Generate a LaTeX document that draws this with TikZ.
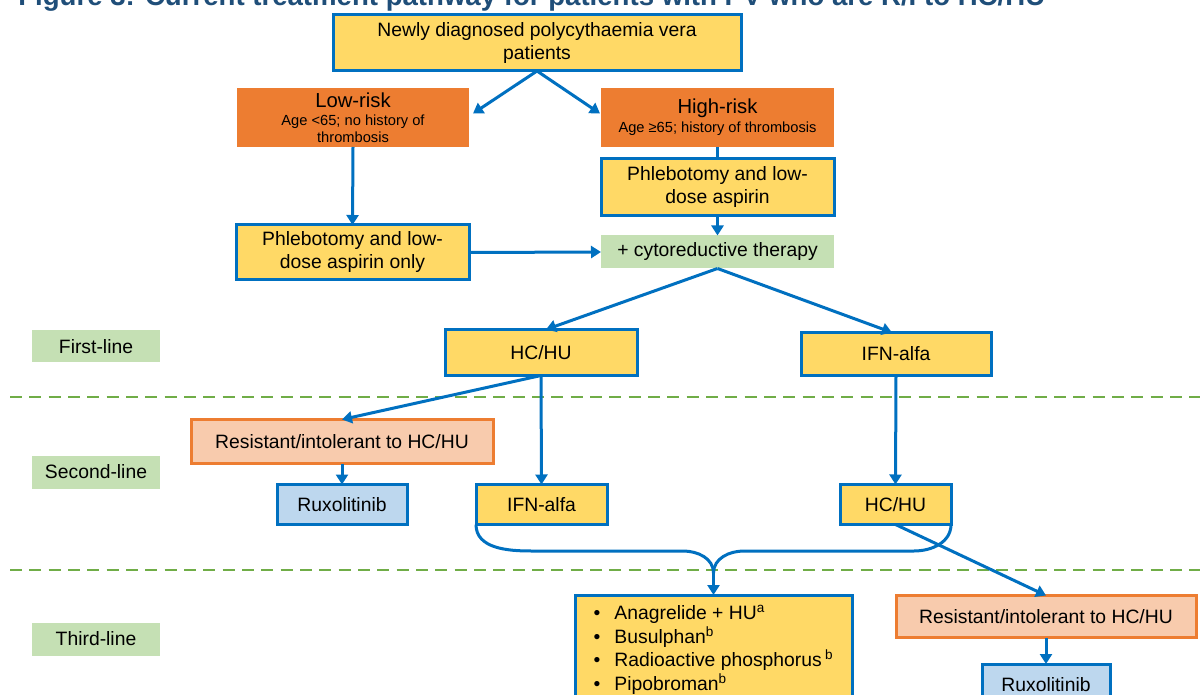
\documentclass[tikz,border=0pt]{standalone}
\usepackage{fontspec}
\setmainfont{Liberation Sans}
\usetikzlibrary{arrows.meta,calc}
\definecolor{cblue}{HTML}{0070C0}
\definecolor{cyel}{HTML}{FFD966}
\definecolor{corg}{HTML}{ED7D31}
\definecolor{cpeach}{HTML}{F8CBAD}
\definecolor{clblue}{HTML}{BDD7EE}
\definecolor{cgreen}{HTML}{C5E0B4}
\definecolor{cdash}{HTML}{70AD47}
\definecolor{ctitle}{HTML}{1F4E79}
\begin{document}
\begin{tikzpicture}[x=0.75pt,y=-0.75pt,
 sz/.style 2 args={minimum width={#1*0.75pt},minimum height={#2*0.75pt}},
 plain/.style={inner sep=0pt,outer sep=0pt,font=\fontsize{14.5}{17.25}\selectfont},
 base/.style={plain,align=center},
 ybox/.style={base,fill=cyel,draw=cblue,line width=2.25pt},
 obox/.style={base,fill=corg},
 pbox/.style={base,fill=cpeach,draw=corg,line width=2.25pt},
 bbox/.style={base,fill=clblue,draw=cblue,line width=2.25pt},
 gbox/.style={base,fill=cgreen},
 listbox/.style={plain,fill=cyel,draw=cblue,line width=2.25pt},
 conn/.style={draw=cblue,line width=2.25pt},
 arr/.style={conn,-{Triangle[length=7.5pt,width=9pt]}},
 divider/.style={draw=cdash,line width=1.1pt,dash pattern=on 9pt off 5.5pt}
]
\useasboundingbox (0,0) rectangle (1200,695);
\clip (0,0) rectangle (1200,695);
\fill[white] (0,0) rectangle (1200,695);

\node[anchor=base west,inner sep=0pt,text=ctitle,font=\bfseries\fontsize{20.7}{24}\selectfont] (title) at (18,6) {Figure 3: Current treatment pathway for patients with PV who are R/I to HC/HU};

\draw[divider] (10,397) -- (1200,397);
\draw[divider] (10,570) -- (1200,570);

\node[ybox,sz={408}{56}] (top) at (537,43) {Newly diagnosed polycythaemia vera\\patients};
\node[obox,sz={232}{59}] (low) at (353,117.5) {\fontsize{15.2}{17.25}\selectfont Low-risk\\[-3.5pt]\fontsize{11}{12.75}\selectfont Age <65; no history of\\[-4.5pt]\fontsize{11}{12.75}\selectfont thrombosis};
\node[obox,sz={233}{59}] (high) at (717.5,117.5) {\fontsize{15.2}{17.25}\selectfont High-risk\\[-2.75pt]\fontsize{11}{12.75}\selectfont Age ≥65; history of thrombosis};
\node[ybox,sz={233}{57}] (phr) at (717.5,187.5) {Phlebotomy and low-\\dose aspirin};
\node[ybox,sz={233}{55}] (phl) at (352.5,252.5) {Phlebotomy and low-\\dose aspirin only};
\node[gbox,sz={233}{33}] (cyto) at (717.5,252) {+ cytoreductive therapy};

\node[gbox,sz={128}{32}] (lab1) at (96,346.5) {First-line};
\node[ybox,sz={192}{46}] (hc1) at (541,352.5) {HC/HU};
\node[ybox,sz={190}{43}] (ifn1) at (896,354) {IFN-alfa};

\node[pbox,sz={302}{44}] (res1) at (342,441.5) {Resistant/intolerant to HC/HU};
\node[gbox,sz={128}{33}] (lab2) at (96,472) {Second-line};
\node[bbox,sz={130}{40}] (rux1) at (342,504.5) {Ruxolitinib};
\node[ybox,sz={131}{40}] (ifn2) at (541.5,504.5) {IFN-alfa};
\node[ybox,sz={111}{40}] (hc2) at (895.5,504.5) {HC/HU};

\node[gbox,sz={128}{33}] (lab3) at (96,639) {Third-line};
\node[listbox,sz={277}{111}] (bul) at (713.5,650.5) {\begin{tabular}{@{}l@{\hspace{10.5pt}}l@{}}
•&Anagrelide + HU\textsuperscript{a}\\
•&Busulphan\textsuperscript{b}\\
•&Radioactive phosphorus\,\textsuperscript{b}\\
•&Pipobroman\textsuperscript{b}
\end{tabular}};
\node[pbox,sz={300}{42}] (res2) at (1046,616.5) {Resistant/intolerant to HC/HU};
\node[bbox,sz={128}{42}] (rux2) at (1046,685) {Ruxolitinib};

% connectors
\draw[arr] (top.south) -- ([shift={(4,-4)}]low.east);
\draw[arr] (top.south) -- ([shift={(-1,-4)}]high.west);
\draw[arr] (low.south) -- (phl.north);
\draw[conn] (high.south) -- (phr.north);
\draw[arr] (phr.south) -- (cyto.north);
\draw[arr] (phl.east) -- (cyto.west);
\draw[arr] (cyto.south) -- ([shift={(5,0)}]hc1.north);
\draw[arr] (cyto.south) -- ([shift={(-4,0)}]ifn1.north);
\draw[arr] (hc1.south) -- (ifn2.north);
\draw[arr] (hc1.south) -- (res1.north);
\draw[arr] (res1.south) -- (rux1.north);
\draw[arr] (ifn1.south) -- (hc2.north);

\coordinate (merge) at (713.5,573);
\coordinate (lA) at (531,551);
\coordinate (lB) at (683,551);
\coordinate (rA) at (914,551);
\coordinate (rB) at (744,551);
\draw[conn] (ifn2.south west) to[out=-90,in=180] (lA) -- (lB) to[out=0,in=90] (merge);
\draw[conn] (hc2.south east) to[out=-90,in=0] (rA) -- (rB) to[out=180,in=90] (merge);
\draw[arr] (merge) -- (bul.north);

\draw[arr] (hc2.south) -- (res2.north);
\draw[arr] (res2.south) -- (rux2.north);
\end{tikzpicture}
\end{document}
